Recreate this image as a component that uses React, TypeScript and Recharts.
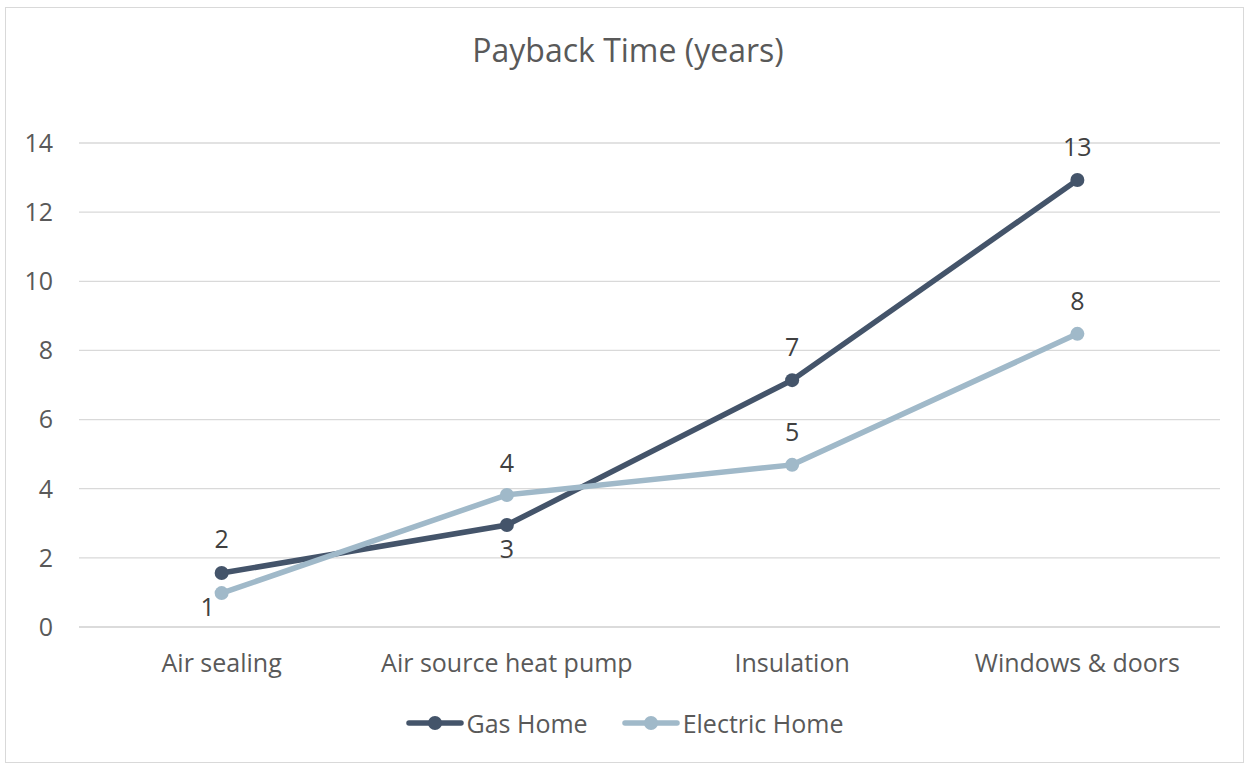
import React from 'react';
import { LineChart, Line, XAxis, YAxis, CartesianGrid, Legend, LabelList } from 'recharts';

const CATEGORIES = ['Air sealing', 'Air source heat pump', 'Insulation', 'Windows & doors'];
const GAS_HOME = [1.56, 2.95, 7.14, 12.93];
const ELECTRIC_HOME = [0.98, 3.82, 4.69, 8.48];
const Y_TICKS = [0, 2, 4, 6, 8, 10, 12, 14];

const GAS_COLOR = '#44546A';
const ELEC_COLOR = '#A0B9C9';
const FONT = '"Open Sans", "Noto Sans", sans-serif';

// label offsets (dx, dy from point to label centre), per point
const GAS_LABEL_OFFSET = [[0, -35], [0, 23], [0, -34], [0, -34]];
const ELEC_LABEL_OFFSET = [[-14, 13], [0, -33], [0, -34], [0, -34]];

const data = CATEGORIES.map((name, i) => ({
  name,
  gas: GAS_HOME[i],
  electric: ELECTRIC_HOME[i],
}));

const makeLabel = (offsets: number[][]) => (props: any) => {
  const { x, y, value, index } = props;
  const [dx, dy] = offsets[index] || [0, -34];
  return (
    <text
      x={x + dx}
      y={y + dy}
      textAnchor="middle"
      dominantBaseline="central"
      fontSize={25}
      fontFamily={FONT}
      fill="#404040"
    >
      {Math.round(value)}
    </text>
  );
};

const LegendContent = () => {
  const items = [
    { label: 'Gas Home', color: GAS_COLOR },
    { label: 'Electric Home', color: ELEC_COLOR },
  ];
  return (
    <div style={{ display: 'flex', justifyContent: 'center', gap: 34, fontFamily: FONT, fontSize: 25, color: '#595959' }}>
      {items.map((it) => (
        <div key={it.label} style={{ display: 'flex', alignItems: 'center' }}>
          <svg width={58} height={16} style={{ marginRight: 3 }}>
            <line x1={3} y1={8} x2={55} y2={8} stroke={it.color} strokeWidth={5.5} strokeLinecap="round" />
            <circle cx={29} cy={8} r={7} fill={it.color} />
          </svg>
          <span>{it.label}</span>
        </div>
      ))}
    </div>
  );
};

export default function App() {
  return (
    <div style={{ position: 'absolute', left: 0, top: 0, width: 1249, height: 765, background: '#fff' }}>
      <div
        style={{
          position: 'absolute',
          left: 5,
          top: 7,
          width: 1239,
          height: 756,
          border: '1px solid #D9D9D9',
          boxSizing: 'border-box',
        }}
      />
      <div
        style={{
          position: 'absolute',
          left: 0,
          top: 28,
          width: 1256,
          textAlign: 'center',
          fontFamily: FONT,
          fontSize: 32,
          lineHeight: '44px',
          color: '#595959',
        }}
      >
        Payback Time (years)
      </div>
      <LineChart
        width={1249}
        height={765}
        data={data}
        margin={{ top: 143, right: 29, bottom: 52, left: 0 }}
        style={{ position: 'absolute', left: 0, top: 0 }}
      >
        <CartesianGrid vertical={false} stroke="#D9D9D9" strokeWidth={1.3} />
        <XAxis
          dataKey="name"
          scale="band"
          axisLine={{ stroke: '#D9D9D9', strokeWidth: 1.3 }}
          tickLine={false}
          tick={{ fontSize: 25, fontFamily: FONT, fill: '#595959' }}
          tickMargin={21}
          height={50}
        />
        <YAxis
          domain={[0, 14]}
          ticks={Y_TICKS}
          axisLine={false}
          tickLine={false}
          width={79}
          tickMargin={20}
          tick={{ fontSize: 25, fontFamily: FONT, fill: '#595959' }}
        />
        <Legend
          verticalAlign="bottom"
          content={<LegendContent />}
          wrapperStyle={{ top: 706, left: 0, width: 1249, height: 36 }}
        />
        <Line
          dataKey="gas"
          name="Gas Home"
          stroke={GAS_COLOR}
          strokeWidth={5.5}
          dot={{ r: 7, fill: GAS_COLOR, stroke: GAS_COLOR, strokeWidth: 0 }}
          isAnimationActive={false}
        >
          <LabelList dataKey="gas" content={makeLabel(GAS_LABEL_OFFSET)} />
        </Line>
        <Line
          dataKey="electric"
          name="Electric Home"
          stroke={ELEC_COLOR}
          strokeWidth={5.5}
          dot={{ r: 7, fill: ELEC_COLOR, stroke: ELEC_COLOR, strokeWidth: 0 }}
          isAnimationActive={false}
        >
          <LabelList dataKey="electric" content={makeLabel(ELEC_LABEL_OFFSET)} />
        </Line>
      </LineChart>
    </div>
  );
}
